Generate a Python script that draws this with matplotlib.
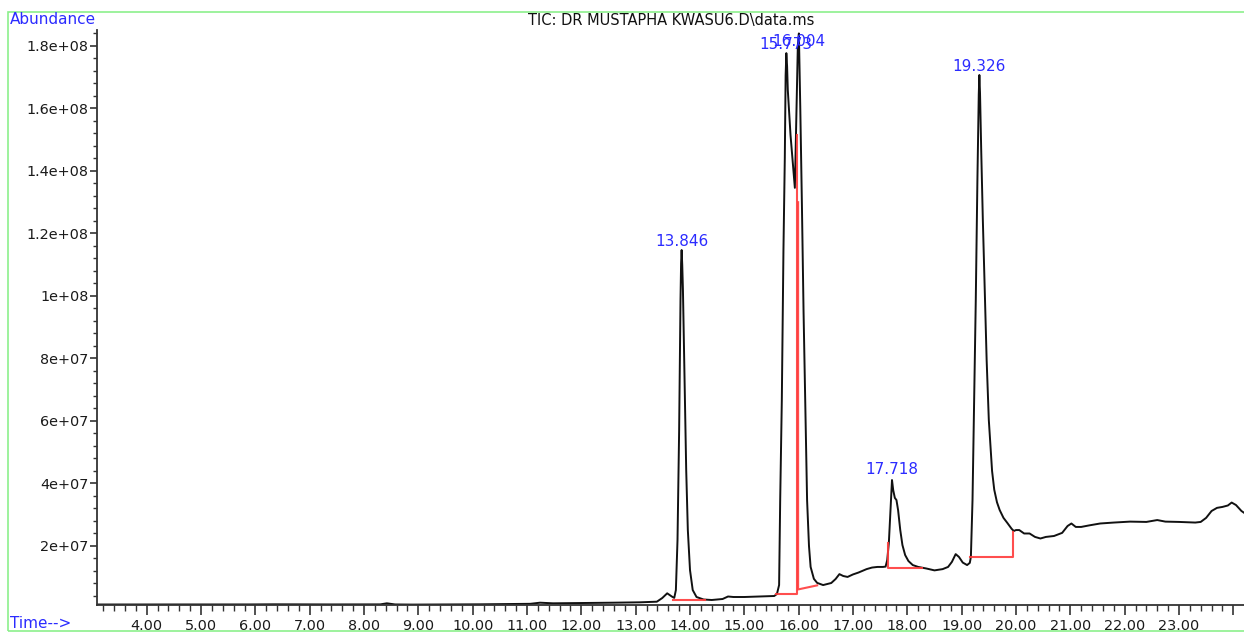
import numpy as np
import matplotlib
matplotlib.use("Agg")
import matplotlib.pyplot as plt
from matplotlib.ticker import MultipleLocator, FixedLocator, FuncFormatter
from matplotlib.patches import Rectangle

# total ion chromatogram (time in min, abundance in millions of counts)
time = [3.085, 4.06, 4.98, 5.90, 6.33, 7.38, 8.30, 8.42, 8.57, 8.90, 9.60, 10.14, 10.70, 11.06,
        11.24, 11.48, 12.00, 12.59, 13.08, 13.39, 13.49, 13.58, 13.67, 13.71,
        13.74, 13.77, 13.80, 13.825, 13.836, 13.846, 13.857, 13.87, 13.90, 13.93, 13.96, 14.00,
        14.05, 14.12, 14.25, 14.40, 14.60, 14.70, 14.80, 15.00, 15.30, 15.55, 15.60,
        15.64, 15.66, 15.69, 15.72, 15.745, 15.76, 15.773, 15.787, 15.80, 15.85, 15.93, 15.96,
        15.985, 16.004, 16.03, 16.06, 16.09, 16.12, 16.155, 16.19, 16.22, 16.28, 16.34, 16.45,
        16.60, 16.68, 16.75, 16.82, 16.90, 17.00, 17.10, 17.25, 17.35, 17.45, 17.55, 17.60,
        17.63, 17.66, 17.69, 17.718, 17.74, 17.77, 17.80, 17.83, 17.87, 17.91, 17.96, 18.02,
        18.10, 18.20, 18.35, 18.50, 18.65, 18.75, 18.82, 18.89, 18.95, 19.02, 19.10, 19.15,
        19.17, 19.20, 19.23, 19.26, 19.29, 19.315, 19.326, 19.338, 19.36, 19.39, 19.42, 19.46,
        19.50, 19.53, 19.56, 19.60, 19.65, 19.70, 19.77, 19.84, 19.92, 19.96, 20.00, 20.06,
        20.15, 20.25, 20.35, 20.45, 20.55, 20.70, 20.85, 20.95, 21.02, 21.10, 21.20, 21.35,
        21.55, 21.80, 22.10, 22.40, 22.60, 22.75, 23.00, 23.30, 23.40, 23.50, 23.60, 23.70,
        23.80, 23.90, 23.97, 24.05, 24.15, 24.20]
abund = [1.28, 1.28, 1.30, 1.30, 1.34, 1.30, 1.32, 1.66, 1.30, 1.25, 1.30, 1.34, 1.45, 1.50,
         1.86, 1.66, 1.75, 1.86, 1.98, 2.18, 3.36, 4.86, 3.78, 3.40,
         5.9, 21.9, 57.1, 98.7, 110.5, 114.7, 110.0, 101.9, 73.1, 44.3, 25.1, 12.3,
         5.9, 3.68, 2.88, 2.72, 3.04, 3.84, 3.68, 3.68, 3.84, 4.0, 4.64,
         7.5, 34.7, 66.7, 114.7, 144.2, 170.5, 177.7, 173.5, 165.9, 151.5, 134.6, 159.5,
         180.3, 184.0, 160.0, 129.0, 95.0, 66.7, 34.7, 20.0, 13.3, 9.5, 8.2, 7.5,
         8.16, 9.44, 11.0, 10.4, 10.1, 10.9, 11.5, 12.6, 13.1, 13.3, 13.3, 13.4,
         15.5, 21.0, 31.5, 41.1, 37.9, 35.4, 34.7, 31.5, 25.1, 20.3, 17.1, 15.2,
         13.9, 13.3, 12.8, 12.2, 12.6, 13.3, 14.9, 17.4, 16.5, 14.7, 13.9, 14.6,
         16.5, 34.7, 66.7, 98.7, 137.1, 164.5, 170.7, 165.0, 146.7, 124.3, 105.1, 79.5,
         60.3, 52.0, 44.0, 38.0, 34.0, 31.5, 29.0, 27.4, 25.5, 24.8, 25.1, 25.1,
         24.0, 24.0, 22.9, 22.4, 22.9, 23.2, 24.2, 26.4, 27.2, 26.1, 26.1, 26.6,
         27.2, 27.5, 27.8, 27.7, 28.3, 27.8, 27.7, 27.5, 27.7, 29.0, 31.2, 32.2,
         32.5, 32.96, 33.9, 33.1, 31.2, 30.6]

# labelled peaks (retention times)
peak_rt = [13.846, 15.773, 16.004, 17.718, 19.326]
label_dy = [9, 9, -8, 11, 9]   # label centre offset from apex, px

# integration baselines drawn by the data system
base_t = [[13.69, 14.28],
          [15.59, 15.975, 15.975],
          [15.99, 15.99, 16.34],
          [17.65, 17.65, 18.265],
          [19.155, 19.95, 19.95]]
base_a = [[2.72, 2.72],
          [4.64, 4.64, 151.5],
          [130.0, 6.1, 7.4],
          [21.0, 12.96, 12.96],
          [16.6, 16.6, 24.6]]

t = np.array(time)
a = np.array(abund) * 1e6

W, H = 1244, 632
fig = plt.figure(figsize=(W / 100, H / 100), dpi=100)
ax = fig.add_axes([97 / W, (H - 605) / H, (W - 97) / W, (605 - 30) / H])

ax.plot(t, a, color="#111111", lw=1.4)
for bt, ba in zip(base_t, base_a):
    ax.plot(bt, np.array(ba) * 1e6, color="#ff3b3b", lw=1.5, alpha=0.9)

for rt, dy in zip(peak_rt, label_dy):
    top = a[np.argmin(np.abs(t - rt))]
    ax.annotate(f"{rt:.3f}", xy=(rt, top), xytext=(0, dy), textcoords="offset pixels",
                ha="center", va="center", color="#2b2bff", fontsize=11, annotation_clip=False)

ax.set_xlim(3.085, 24.197)
ax.set_ylim(1.12e6, 1.851e8)

for s in ["top", "right"]:
    ax.spines[s].set_visible(False)
for s in ["left", "bottom"]:
    ax.spines[s].set_color("#333333")
    ax.spines[s].set_linewidth(1.3)

ax.xaxis.set_major_locator(FixedLocator(np.arange(4, 25, 1.0)))
ax.xaxis.set_minor_locator(MultipleLocator(0.2))
ax.xaxis.set_major_formatter(FuncFormatter(lambda v, p: "" if v > 23.5 else f"{v:.2f}"))
ax.yaxis.set_major_locator(FixedLocator(np.arange(2e7, 1.81e8, 2e7)))
ax.yaxis.set_minor_locator(MultipleLocator(4e6))
ax.yaxis.set_major_formatter(FuncFormatter(lambda v, p: f"{v:g}"))

ax.tick_params(axis="x", which="major", length=7, width=1.2, color="#333333",
               labelsize=10.4, labelcolor="#1a1a1a", pad=3)
ax.tick_params(axis="x", which="minor", length=4, width=1, color="#333333")
ax.tick_params(axis="y", which="major", length=5, width=1.2, color="#333333",
               labelsize=10.4, labelcolor="#1a1a1a", pad=1)
ax.tick_params(axis="y", which="minor", length=3, width=1, color="#333333")

# frame and header texts
fig.patches.append(Rectangle((8 / W, 1 / H), 1.2, (H - 13) / H, transform=fig.transFigure,
                             fill=False, edgecolor="#8cf08c", lw=1.2))
fig.text(10 / W, 1 - 20 / H, "Abundance", color="#2b2bff", fontsize=11, va="center", ha="left")
fig.text(10 / W, 1 - 624 / H, "Time-->", color="#2b2bff", fontsize=11, va="center", ha="left")
fig.text(671 / W, 1 - 21 / H, "TIC: DR MUSTAPHA KWASU6.D\\data.ms", color="#111111",
         fontsize=10.5, va="center", ha="center")

fig.savefig("out.png", dpi=100)
